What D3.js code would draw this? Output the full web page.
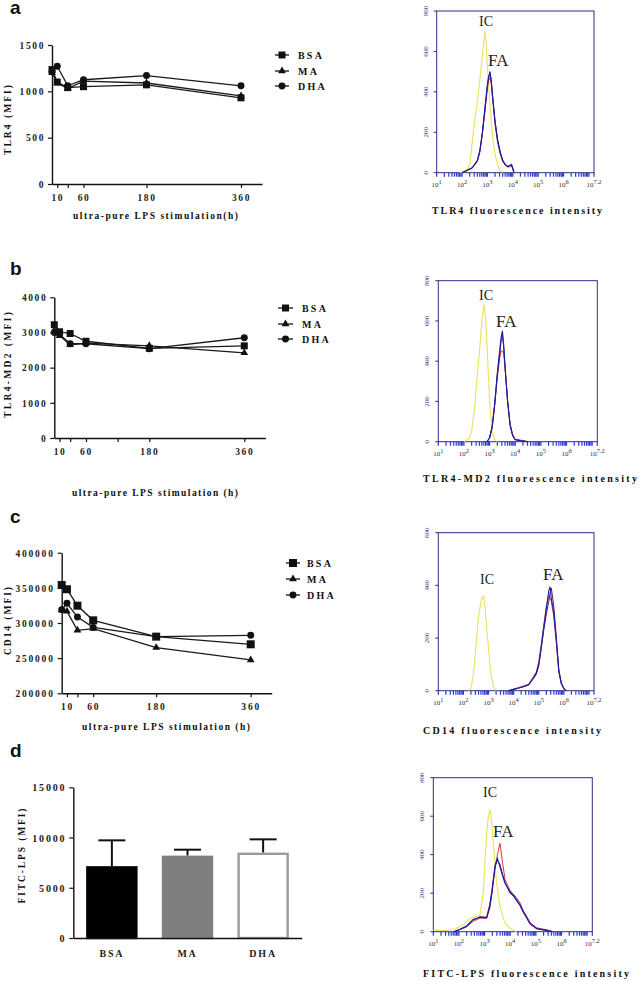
<!DOCTYPE html>
<html><head><meta charset="utf-8">
<script src="https://cdn.jsdelivr.net/npm/d3@7/dist/d3.min.js"></script>
<style>body{margin:0;background:#fff}svg{display:block}</style>
</head><body><svg id="fig" width="640" height="981"></svg>
<script>
// ---------- data ----------
const times = [0, 10, 30, 60, 180, 360];
const tlr4BSA = [1235, 1100, 1040, 1050, 1070, 930];
const tlr4MA  = [1200, 1090, 1030, 1110, 1090, 950];
const tlr4DHA = [1210, 1270, 1060, 1125, 1170, 1060];
const md2BSA = [3220, 3020, 2970, 2750, 2550, 2620];
const md2MA  = [3050, 2910, 2650, 2700, 2620, 2420];
const md2DHA = [3000, 2950, 2680, 2680, 2540, 2850];
const cd14BSA = [354000, 348000, 324600, 303800, 280600, 269700];
const cd14MA  = [318500, 316600, 289600, 292000, 265000, 247400];
const cd14DHA = [319000, 328000, 308500, 293800, 280600, 282500];
const groups = ["BSA", "MA", "DHA"];
const fitcMean = [7150, 8200, 8500];
const fitcUpper = [9720, 8790, 9820];

// flow histograms: log10 intensity vs count
const icA_x = [1.9, 2.1, 2.2, 2.3, 2.4, 2.5, 2.6, 2.7, 2.8, 2.9, 2.95, 3.0, 3.1, 3.2, 3.3, 3.4, 3.5, 3.6];
const icA_y = [0, 10, 15, 35, 150, 260, 350, 460, 580, 700, 640, 520, 330, 180, 90, 40, 12, 0];
const faA_x = [2.0, 2.2, 2.4, 2.6, 2.7, 2.8, 2.9, 3.0, 3.05, 3.1, 3.15, 3.2, 3.3, 3.4, 3.5, 3.6, 3.7, 3.8, 3.9, 3.95, 4.0, 4.05];
const faA_blue = [0, 12, 25, 60, 110, 200, 320, 440, 480, 490, 450, 380, 250, 160, 100, 60, 40, 30, 35, 40, 20, 0];
const faA_red  = [0, 10, 22, 55, 100, 190, 300, 420, 455, 470, 440, 370, 240, 150, 95, 55, 38, 28, 30, 35, 15, 0];
const faA_dark = [0, 12, 24, 58, 105, 195, 310, 430, 470, 500, 460, 385, 255, 165, 105, 62, 42, 32, 38, 42, 22, 0];

const icB_x = [2.0, 2.1, 2.2, 2.3, 2.4, 2.5, 2.6, 2.7, 2.78, 2.85, 2.9, 3.0, 3.1, 3.2, 3.3];
const icB_y = [0, 8, 15, 50, 150, 300, 440, 600, 684, 600, 480, 200, 50, 10, 0];
const faB_x = [2.9, 3.0, 3.1, 3.2, 3.3, 3.4, 3.45, 3.5, 3.55, 3.6, 3.7, 3.8, 3.9, 4.0, 4.2, 4.5];
const faB_blue = [0, 20, 75, 190, 340, 460, 520, 551, 480, 380, 200, 80, 30, 10, 5, 0];
const faB_red  = [0, 18, 70, 180, 320, 420, 450, 450, 440, 370, 210, 90, 35, 12, 8, 0];
const faB_dark = [0, 20, 72, 185, 330, 440, 500, 530, 470, 375, 205, 85, 32, 10, 6, 0];

const icC_x = [2.2, 2.3, 2.4, 2.5, 2.6, 2.7, 2.75, 2.8, 2.85, 2.9, 3.0, 3.1, 3.2, 3.3];
const icC_y = [0, 10, 60, 170, 280, 340, 355, 359, 330, 270, 160, 60, 15, 0];
const faC_x = [3.8, 4.0, 4.2, 4.4, 4.6, 4.8, 4.9, 5.0, 5.1, 5.2, 5.3, 5.4, 5.45, 5.5, 5.6, 5.7, 5.8, 5.9, 6.0, 6.1];
const faC_blue = [0, 5, 10, 15, 22, 50, 66, 100, 167, 240, 310, 380, 395, 350, 294, 192, 70, 25, 8, 0];
const faC_red  = [0, 6, 12, 18, 25, 55, 70, 110, 175, 250, 320, 360, 350, 340, 280, 180, 75, 28, 10, 0];
const faC_dark = [0, 5, 10, 16, 22, 48, 62, 95, 160, 230, 290, 340, 370, 390, 320, 200, 80, 30, 8, 0];

const icD_x = [1.0, 1.5, 1.9, 2.2, 2.4, 2.56, 2.7, 2.82, 2.95, 3.08, 3.15, 3.21, 3.28, 3.34, 3.47, 3.6, 3.8, 3.99, 4.25];
const icD_y = [8, 6, 17, 40, 65, 78, 80, 87, 200, 510, 600, 635, 560, 459, 250, 130, 43, 17, 0];
const faD_x = [1.8, 2.0, 2.3, 2.56, 2.82, 3.08, 3.2, 3.28, 3.41, 3.5, 3.6, 3.7, 3.8, 3.99, 4.12, 4.25, 4.38, 4.51, 4.64, 4.77, 5.03, 5.4, 5.67];
const faD_blue = [0, 10, 30, 65, 75, 72, 130, 200, 346, 380, 337, 290, 250, 208, 190, 165, 140, 104, 75, 43, 17, 8, 0];
const faD_red  = [0, 8, 25, 55, 70, 70, 120, 190, 330, 400, 459, 360, 270, 215, 195, 175, 150, 110, 80, 48, 20, 10, 0];
const faD_dark = [0, 10, 28, 60, 78, 75, 140, 210, 340, 370, 350, 300, 255, 200, 185, 160, 135, 100, 70, 40, 15, 6, 0];

// ---------- drawing ----------
const svg = d3.select("#fig");
const SERIF = "'Liberation Serif','DejaVu Serif',serif";
const SANS = "'Liberation Sans',Arial,sans-serif";
const plain = d3.format("d");

function boldText(g, x, y, txt, opts = {}) {
  const t = g.append("text").attr("x", x).attr("y", y).text(txt)
    .attr("font-family", SERIF).attr("font-weight", "bold")
    .attr("font-size", opts.size || 10).attr("fill", "#111")
    .attr("text-anchor", opts.anchor || "start");
  if (opts.len) t.attr("textLength", opts.len).attr("lengthAdjust", "spacing");
  if (opts.rotate) t.attr("transform", `rotate(-90 ${x} ${y})`);
  return t;
}

function symbolFor(name, big) {
  if (name === "BSA") return d3.symbol(d3.symbolSquare, big ? 64 : 49);
  if (name === "MA") return d3.symbol(d3.symbolTriangle, 26);
  return d3.symbol(d3.symbolCircle, 38);
}

function linePanel(c) {
  const g = svg.append("g");
  const x = d3.scaleLinear().domain([0, 400]).range([c.x0, c.x1]);
  const y = d3.scaleLinear().domain(c.ydom).range([c.yb, c.yt]);
  const xa = g.append("g").attr("transform", `translate(0,${c.yb})`)
    .call(d3.axisBottom(x).tickValues(c.xticks).tickSize(4).tickSizeOuter(0).tickPadding(6)
      .tickFormat(d => c.xlabels.includes(d) ? d : ""));
  const ya = g.append("g").attr("transform", `translate(${c.x0},0)`)
    .call(d3.axisLeft(y).tickValues(c.yticks).tickFormat(plain).tickSize(4).tickSizeOuter(0).tickPadding(3));
  [xa, ya].forEach(a => {
    a.select(".domain").attr("stroke", "#111").attr("stroke-width", 1.4);
    a.selectAll(".tick line").attr("stroke", "#111").attr("stroke-width", 1.2);
    a.selectAll("text").attr("font-family", SERIF).attr("font-weight", "bold")
      .attr("font-size", 9.5).attr("letter-spacing", c.ls || 1.6).attr("fill", "#222");
  });
  ya.selectAll("text").attr("dy", "0.35em");
  const series = [
    { name: "DHA", v: c.dha }, { name: "MA", v: c.ma }, { name: "BSA", v: c.bsa }
  ];
  const line = d3.line().x((d, i) => x(times[i])).y(d => y(d));
  series.forEach(s => g.append("path").datum(s.v).attr("d", line)
    .attr("fill", "none").attr("stroke", "#1a1a1a").attr("stroke-width", 1.3));
  series.forEach(s => g.selectAll(null).data(s.v).enter().append("path")
    .attr("d", symbolFor(s.name, c.big)())
    .attr("transform", (d, i) => `translate(${x(times[i])},${y(d)})`)
    .attr("fill", "#111"));
  // legend
  ["BSA", "MA", "DHA"].forEach((n, i) => {
    const ly = c.leg.y[i];
    g.append("line").attr("x1", c.leg.x).attr("x2", c.leg.x + c.leg.w).attr("y1", ly).attr("y2", ly)
      .attr("stroke", "#111").attr("stroke-width", 1.3);
    g.append("path").attr("d", symbolFor(n, c.big)())
      .attr("transform", `translate(${c.leg.x + c.leg.w / 2},${ly})`).attr("fill", "#111");
    boldText(g, c.leg.tx, ly + 3.5, n, { size: 10 }).attr("letter-spacing", 2.2);
  });
  boldText(g, c.ylab.x, c.ylab.y, c.ylab.t, { size: 9.5, anchor: "middle", rotate: true, len: c.ylab.len });
  boldText(g, c.xlab.x, c.xlab.y, c.xlab.t, { size: 9.5, anchor: "start", len: c.xlab.len });
  g.append("text").attr("x", 10).attr("y", c.letterY).text(c.letter)
    .attr("font-family", SANS).attr("font-weight", "bold").attr("font-size", 19).attr("fill", "#111");
}

linePanel({
  x0: 52, x1: 262, yb: 184, yt: 45, ydom: [0, 1500], yticks: [0, 500, 1000, 1500],
  xticks: [10, 30, 60, 180, 360], xlabels: [10, 60, 180, 360],
  bsa: tlr4BSA, ma: tlr4MA, dha: tlr4DHA,
  leg: { x: 275, w: 14, tx: 298, y: [55, 71, 86] },
  ylab: { x: 11, y: 120, t: "TLR4 (MFI)", len: 70 },
  xlab: { x: 73, y: 219, t: "ultra-pure LPS stimulation(h)", len: 165 },
  letter: "a", letterY: 14
});
linePanel({
  x0: 54.3, x1: 265.4, yb: 438, yt: 297.3, ydom: [0, 4000], yticks: [0, 1000, 2000, 3000, 4000],
  xticks: [10, 30, 60, 120, 180, 360], xlabels: [10, 60, 180, 360],
  bsa: md2BSA, ma: md2MA, dha: md2DHA,
  leg: { x: 278, w: 15, tx: 302, y: [308, 324, 339] },
  ylab: { x: 11, y: 365, t: "TLR4-MD2 (MFI)", len: 106 },
  xlab: { x: 72, y: 496, t: "ultra-pure LPS stimulation (h)", len: 166 },
  letter: "b", letterY: 275
});
linePanel({
  x0: 61.7, x1: 271.7, yb: 693.3, yt: 552.7, ydom: [200000, 400000],
  yticks: [200000, 250000, 300000, 350000, 400000],
  xticks: [10, 30, 60, 180, 360], xlabels: [10, 60, 180, 360],
  bsa: cd14BSA, ma: cd14MA, dha: cd14DHA, big: true, ls: 1.8,
  leg: { x: 286, w: 14, tx: 307, y: [563, 579, 595] },
  ylab: { x: 11, y: 621, t: "CD14 (MFI)", len: 68 },
  xlab: { x: 82, y: 730, t: "ultra-pure LPS stimulation (h)", len: 168 },
  letter: "c", letterY: 523
});

// panel d bar chart
(function () {
  const g = svg.append("g");
  const x = d3.scaleBand().domain(groups).range([73.3, 301.7]).paddingInner(0.32).paddingOuter(0.17);
  const y = d3.scaleLinear().domain([0, 15000]).range([938, 787.3]);
  const fills = ["#000", "#7f7f7f", "#fff"];
  const strokes = ["#000", "#7f7f7f", "#9a9a9a"];
  groups.forEach((k, i) => {
    const cx = x(k) + x.bandwidth() / 2;
    g.append("line").attr("x1", cx).attr("x2", cx).attr("y1", y(fitcMean[i])).attr("y2", y(fitcUpper[i]))
      .attr("stroke", "#111").attr("stroke-width", 2);
    g.append("line").attr("x1", cx - 13.5).attr("x2", cx + 13.5).attr("y1", y(fitcUpper[i])).attr("y2", y(fitcUpper[i]))
      .attr("stroke", "#111").attr("stroke-width", 2);
  });
  groups.forEach((k, i) => {
    g.append("rect").attr("x", x(k) + 1.2).attr("y", y(fitcMean[i]) + 1.2)
      .attr("width", x.bandwidth() - 2.4).attr("height", y(0) - y(fitcMean[i]) - 1.2)
      .attr("fill", fills[i]).attr("stroke", strokes[i]).attr("stroke-width", 2.4);
  });
  const xa = g.append("g").attr("transform", "translate(0,938)")
    .call(d3.axisBottom(x).tickSize(0).tickPadding(12).tickSizeOuter(0));
  const ya = g.append("g").attr("transform", "translate(73.3,0)")
    .call(d3.axisLeft(y).tickValues([0, 5000, 10000, 15000]).tickFormat(plain).tickSize(4).tickSizeOuter(0).tickPadding(3));
  [xa, ya].forEach(a => {
    a.select(".domain").attr("stroke", "#111").attr("stroke-width", 1.4);
    a.selectAll(".tick line").attr("stroke", "#111").attr("stroke-width", 1.2);
    a.selectAll("text").attr("font-family", SERIF).attr("font-weight", "bold")
      .attr("font-size", 10).attr("letter-spacing", 1.8).attr("fill", "#222");
  });
  ya.selectAll("text").attr("dy", "0.35em");
  boldText(g, 25, 856, "FITC-LPS (MFI)", { size: 9.5, anchor: "middle", rotate: true, len: 95 });
  g.append("text").attr("x", 10).attr("y", 757).text("d")
    .attr("font-family", SANS).attr("font-weight", "bold").attr("font-size", 19).attr("fill", "#111");
})();

// histograms
function histPanel(c) {
  const g = svg.append("g");
  const x = d3.scaleLinear().domain([1, 7.2]).range([c.l, c.r]);
  const y = d3.scaleLinear().domain([0, c.ymax]).range([c.b, c.t]);
  const navy = "#2e2e7e";
  g.append("rect").attr("x", c.l).attr("y", c.t).attr("width", c.r - c.l).attr("height", c.b - c.t)
    .attr("fill", "none").attr("stroke", navy).attr("stroke-width", 1);
  const minor = [];
  for (let dec = 1; dec <= 7; dec++) for (let k = 1; k <= 9; k++) {
    const v = dec + Math.log10(k);
    if (v <= 7.2) minor.push(v);
  }
  minor.push(7.2);
  g.selectAll(null).data(minor).enter().append("line")
    .attr("x1", d => x(d)).attr("x2", d => x(d)).attr("y1", c.b).attr("y2", c.b + 4)
    .attr("stroke", "#2a3ad0").attr("stroke-width", 1.2);
  const yt = d3.range(0, c.ymax + 1, 200);
  yt.forEach(v => {
    g.append("line").attr("x1", c.l - 3).attr("x2", c.l).attr("y1", y(v)).attr("y2", y(v)).attr("stroke", navy);
    g.append("text").attr("transform", `translate(${c.l - 9},${y(v)}) rotate(-90)`)
      .attr("text-anchor", "middle").attr("font-family", SERIF).attr("font-size", 7)
      .attr("fill", "#3a3a8a").text(v);
  });
  [1, 2, 3, 4, 5, 6, 7.2].forEach(v => {
    const t = g.append("text").attr("x", x(v)).attr("y", c.b + 14).attr("text-anchor", "middle")
      .attr("font-family", SERIF).attr("font-size", 7).attr("fill", "#333");
    t.append("tspan").text("10");
    t.append("tspan").attr("dy", -3).attr("font-size", 6.5).text(v);
  });
  const line = d3.line().x(d => x(d[0])).y(d => y(d[1]));
  const draw = (xs, ys, col, w) => g.append("path").datum(xs.map((v, i) => [v, ys[i]]))
    .attr("d", line).attr("fill", "none").attr("stroke", col).attr("stroke-width", w || 1);
  draw(c.icx, c.icy, "#ece15a", 1.1);
  draw(c.fax, c.red, "#d63a3a", 1);
  draw(c.fax, c.dark, "#4b1d6b", 1);
  draw(c.fax, c.blue, "#1c1ca8", 1.1);
  g.append("text").attr("x", c.ic[0]).attr("y", c.ic[1]).text("IC")
    .attr("font-family", SERIF).attr("font-size", 14).attr("fill", "#222");
  g.append("text").attr("x", c.fa[0]).attr("y", c.fa[1]).text("FA")
    .attr("font-family", SERIF).attr("font-size", 17).attr("fill", "#222");
  boldText(g, c.title[0], c.title[1], c.title[2], { size: 10, len: c.title[3] });
}

histPanel({ l: 436.7, r: 594, t: 11, b: 172.7, ymax: 800,
  icx: icA_x, icy: icA_y, fax: faA_x, blue: faA_blue, red: faA_red, dark: faA_dark,
  ic: [479, 26], fa: [488, 66], title: [432, 214, "TLR4  fluorescence intensity", 170] });
histPanel({ l: 438.3, r: 597.3, t: 280.7, b: 441.7, ymax: 800,
  icx: icB_x, icy: icB_y, fax: faB_x, blue: faB_blue, red: faB_red, dark: faB_dark,
  ic: [479, 300], fa: [496, 327], title: [423, 482, "TLR4-MD2  fluorescence intensity", 214] });
histPanel({ l: 438.3, r: 594, t: 532.7, b: 690.7, ymax: 600,
  icx: icC_x, icy: icC_y, fax: faC_x, blue: faC_blue, red: faC_red, dark: faC_dark,
  ic: [480, 584], fa: [543, 580], title: [423, 734, "CD14 fluorescence intensity", 178] });
histPanel({ l: 433.3, r: 592.3, t: 777.7, b: 931.7, ymax: 800,
  icx: icD_x, icy: icD_y, fax: faD_x, blue: faD_blue, red: faD_red, dark: faD_dark,
  ic: [483, 797], fa: [493, 837], title: [423, 977, "FITC-LPS fluorescence intensity", 206] });
</script></body></html>
